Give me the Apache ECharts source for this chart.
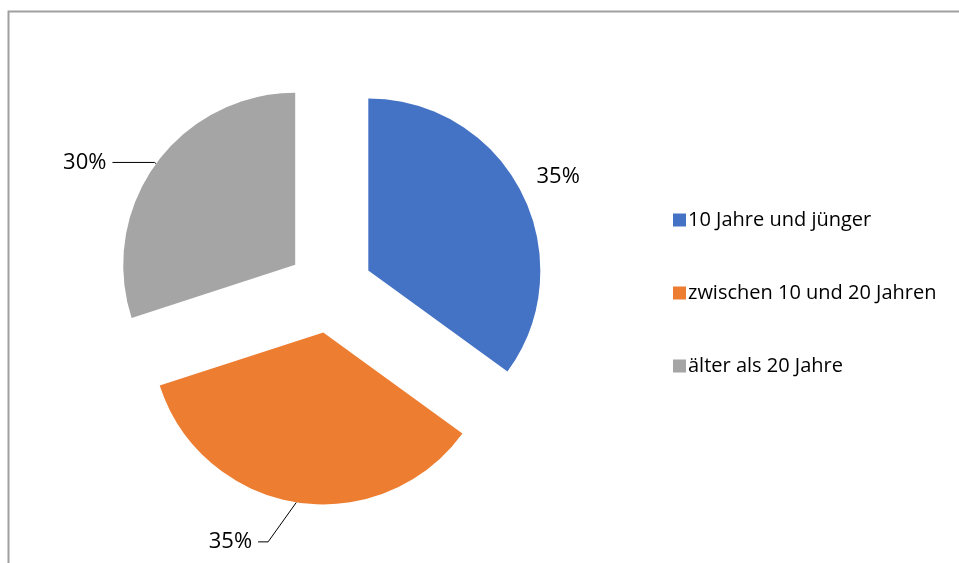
<!DOCTYPE html>
<html><head><meta charset="utf-8">
<script src="https://cdn.jsdelivr.net/npm/echarts@6/dist/echarts.min.js"></script>
<style>html,body{margin:0;padding:0;background:#fff}#c{width:959px;height:563px}</style>
</head><body><div id="c"></div>
<script>
const categories = ['10 Jahre und jünger', 'zwischen 10 und 20 Jahren', 'älter als 20 Jahre'];
const values = [35, 35, 30];
const colors = ['#4472C4', '#ED7D31', '#A5A5A5'];
const labelLines = [
  {show: false, length: 10, length2: 0},
  {show: true, length: 40, length2: 10},
  {show: true, length: 2, length2: 42}
];
const labelShift = [{dx: 2, dy: -11}, {dx: -24, dy: 0, gap: 6, relayout: true}, {dx: -2, dy: 0}];
const chart = echarts.init(document.getElementById('c'));
const FONT = 'Open Sans';
chart.setOption({
  animation: false,
  graphic: [{
    type: 'rect', silent: true,
    shape: {x: 8.5, y: 11.5, width: 1000, height: 1000},
    style: {fill: 'none', stroke: '#A0A0A0', lineWidth: 2}
  }],
  legend: {
    orient: 'vertical', left: 668, top: 205,
    itemWidth: 13, itemHeight: 13, itemGap: 53,
    icon: 'rect', selectedMode: false,
    textStyle: {fontFamily: FONT, fontSize: 20, color: '#000', padding: [0, 0, 0, -3]},
    data: categories
  },
  series: [{
    type: 'pie',
    radius: 172,
    center: [330, 290],
    startAngle: 90,
    clockwise: true,
    selectedMode: 'multiple',
    selectedOffset: 43,
    emphasis: {disabled: true},
    label: {
      show: true, position: 'outside', formatter: '{d}%',
      fontFamily: FONT, fontSize: 22, color: '#000', distanceToLabelLine: 4
    },
    labelLine: {lineStyle: {color: '#000', width: 1}},
    labelLayout: function (p) {
      const s = labelShift[p.dataIndex];
      if (s.relayout) {
        const r = p.labelRect;
        return {
          x: r.x + r.width + s.gap, y: r.y + r.height / 2,
          dx: s.dx, dy: s.dy,
          align: 'right', verticalAlign: 'middle'
        };
      }
      return {dx: s.dx, dy: s.dy};
    },
    data: categories.map((n, i) => ({
      name: n, value: values[i], selected: true,
      itemStyle: {color: colors[i]},
      select: {itemStyle: {color: colors[i]}},
      labelLine: labelLines[i]
    }))
  }]
});
</script></body></html>
